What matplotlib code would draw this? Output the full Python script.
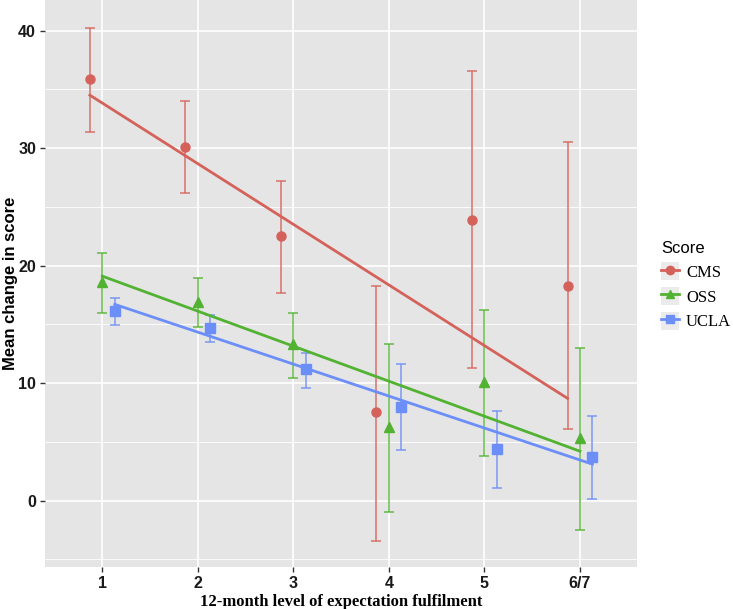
import matplotlib
matplotlib.use("Agg")
from matplotlib import pyplot as plt
from matplotlib.lines import Line2D
from matplotlib.patches import Patch
import numpy as np

levels = ['1', '2', '3', '4', '5', '6/7']
groups = ['CMS', 'OSS', 'UCLA']

cms_mean = [35.9, 30.1, 22.5, 7.5, 23.9, 18.3]
cms_low = [31.4, 26.2, 17.7, -3.4, 11.3, 6.1]
cms_high = [40.2, 34.0, 27.2, 18.3, 36.6, 30.5]

oss_mean = [18.6, 16.9, 13.3, 6.3, 10.1, 5.3]
oss_low = [16.0, 14.8, 10.4, -1.0, 3.8, -2.5]
oss_high = [21.1, 18.9, 16.0, 13.3, 16.2, 13.0]

ucla_mean = [16.1, 14.7, 11.2, 8.0, 4.4, 3.7]
ucla_low = [14.9, 13.5, 9.6, 4.3, 1.1, 0.1]
ucla_high = [17.2, 15.8, 12.6, 11.6, 7.6, 7.2]

# fitted regression line values at first and last level
fit_first = [34.5, 19.1, 16.7]
fit_last = [8.7, 4.2, 3.1]

colors = ['#D5625A', '#52B232', '#6C8EF8']
markers = ['o', '^', 's']
dodge = [-0.13, 0.0, 0.13]

fig = plt.figure(figsize=(7.33, 6.09), dpi=100)
ax = fig.add_axes([0.0614, 0.069, 0.808, 0.931])
ax.set_facecolor('#E5E5E5')

x = np.arange(1, len(levels) + 1)
data = [(cms_mean, cms_low, cms_high), (oss_mean, oss_low, oss_high),
        (ucla_mean, ucla_low, ucla_high)]

for k, (m, lo, hi) in enumerate(data):
    xs = x + dodge[k]
    m = np.array(m)
    err = [m - np.array(lo), np.array(hi) - m]
    ax.errorbar(xs, m, yerr=err, fmt='none', ecolor=colors[k], alpha=0.75,
                elinewidth=1.3, capsize=3.5, capthick=1.3, zorder=3)
    ax.plot(xs, m, linestyle='none', marker=markers[k], color=colors[k],
            markersize=6.5, zorder=4)
    ax.plot([xs[0], xs[-1]], [fit_first[k], fit_last[k]], color=colors[k],
            linewidth=2, zorder=5)

ax.set_xlim(0.4, 6.6)
ax.set_ylim(-5.65, 42.6)
ax.set_xticks(x)
ax.set_xticklabels(levels)
ax.set_yticks([0, 10, 20, 30, 40])
ax.set_yticks([-5, 5, 15, 25, 35], minor=True)
ax.grid(which='major', color='white', linewidth=1.2)
ax.grid(which='minor', axis='y', color='white', linewidth=0.6)
ax.set_axisbelow(True)
for s in ax.spines.values():
    s.set_visible(False)
ax.tick_params(which='major', length=3.5, width=1, color='#333333',
               labelsize=11.5, pad=3)
ax.tick_params(which='minor', length=0)
for lab in ax.get_xticklabels() + ax.get_yticklabels():
    lab.set_fontweight('bold')
    lab.set_family('Liberation Sans')
    lab.set_color('#1a1a1a')

ax.set_ylabel('Mean change in score', fontsize=12, fontweight='bold',
              family='Liberation Sans')
ax.yaxis.set_label_coords(-0.046, 0.5)
ax.set_xlabel('12-month level of expectation fulfilment', fontsize=12,
              fontweight='bold', family='Liberation Serif', labelpad=2)

handles = [(Patch(facecolor='#EBEBEB', edgecolor='none'),
            Line2D([0], [0], color=colors[k], marker=markers[k], markersize=6,
                   linewidth=2)) for k in range(3)]
leg = fig.legend(handles, groups, loc='upper left',
                 bbox_to_anchor=(0.886, 0.623), frameon=False,
                 title='Score', handlelength=1.05, handleheight=1.3,
                 handletextpad=0.45, labelspacing=0.36, borderpad=0.2,
                 prop={'family': 'Liberation Serif', 'size': 12})
leg.get_title().set_fontsize(12)
leg.get_title().set_family('Liberation Sans')
leg._legend_box.align = 'left'

fig.savefig('out.png', dpi=100)
